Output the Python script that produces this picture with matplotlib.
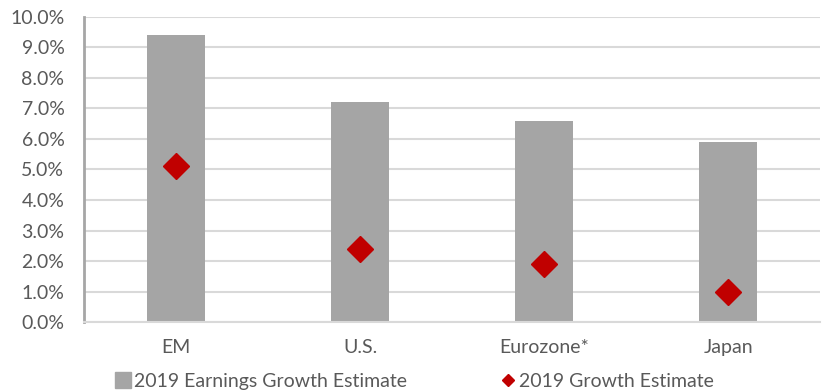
import matplotlib
matplotlib.use("Agg")
import matplotlib.pyplot as plt
from matplotlib.lines import Line2D
from matplotlib.ticker import PercentFormatter
import numpy as np

regions = ["EM", "U.S.", "Eurozone*", "Japan"]
earnings_growth = [9.4, 7.2, 6.6, 5.9]
gdp_growth = [5.1, 2.4, 1.9, 1.0]

BAR = "#a5a5a5"
RED = "#c00000"
TEXT = "#595959"

plt.rcParams["font.family"] = ["Lato", "DejaVu Sans"]

fig = plt.figure(figsize=(8.22, 3.91), dpi=100)
ax = fig.add_axes([0.102, 0.176, 0.896, 0.781])

x = np.arange(len(regions))
ax.bar(x, earnings_growth, width=0.315, color=BAR, zorder=2)
ax.plot(x, gdp_growth, linestyle="none", marker="D", ms=13, color=RED, zorder=3)

ax.set_xlim(-0.5, len(regions) - 0.5)
ax.set_ylim(0, 10)
ax.set_yticks(np.arange(0, 10.5, 1))
ax.yaxis.set_major_formatter(PercentFormatter(decimals=1))
ax.set_xticks(x)
ax.set_xticklabels(regions)
ax.tick_params(axis="both", length=0, labelsize=14, colors=TEXT)
ax.tick_params(axis="x", pad=12)
ax.tick_params(axis="y", pad=14)
ax.grid(True, axis="y", color="#d9d9d9", lw=1.5, zorder=0)
ax.set_axisbelow(True)

for side in ["top", "right"]:
    ax.spines[side].set_visible(False)
ax.spines["left"].set_color("#a6a6a6")
ax.spines["left"].set_linewidth(2)
ax.spines["bottom"].set_color("#d9d9d9")
ax.spines["bottom"].set_linewidth(1.5)

handles = [
    Line2D([], [], linestyle="none", marker="s", ms=11, color=BAR),
    Line2D([], [], linestyle="none", marker="D", ms=6, color=RED),
]
fig.legend(handles, ["2019 Earnings Growth Estimate", "2019 Growth Estimate"],
           loc="lower center", bbox_to_anchor=(0.503, -0.042), ncol=2,
           frameon=False, fontsize=14, labelcolor=TEXT, handletextpad=0.05,
           handlelength=1.0, columnspacing=4.7)

fig.savefig("out.png", dpi=100)
